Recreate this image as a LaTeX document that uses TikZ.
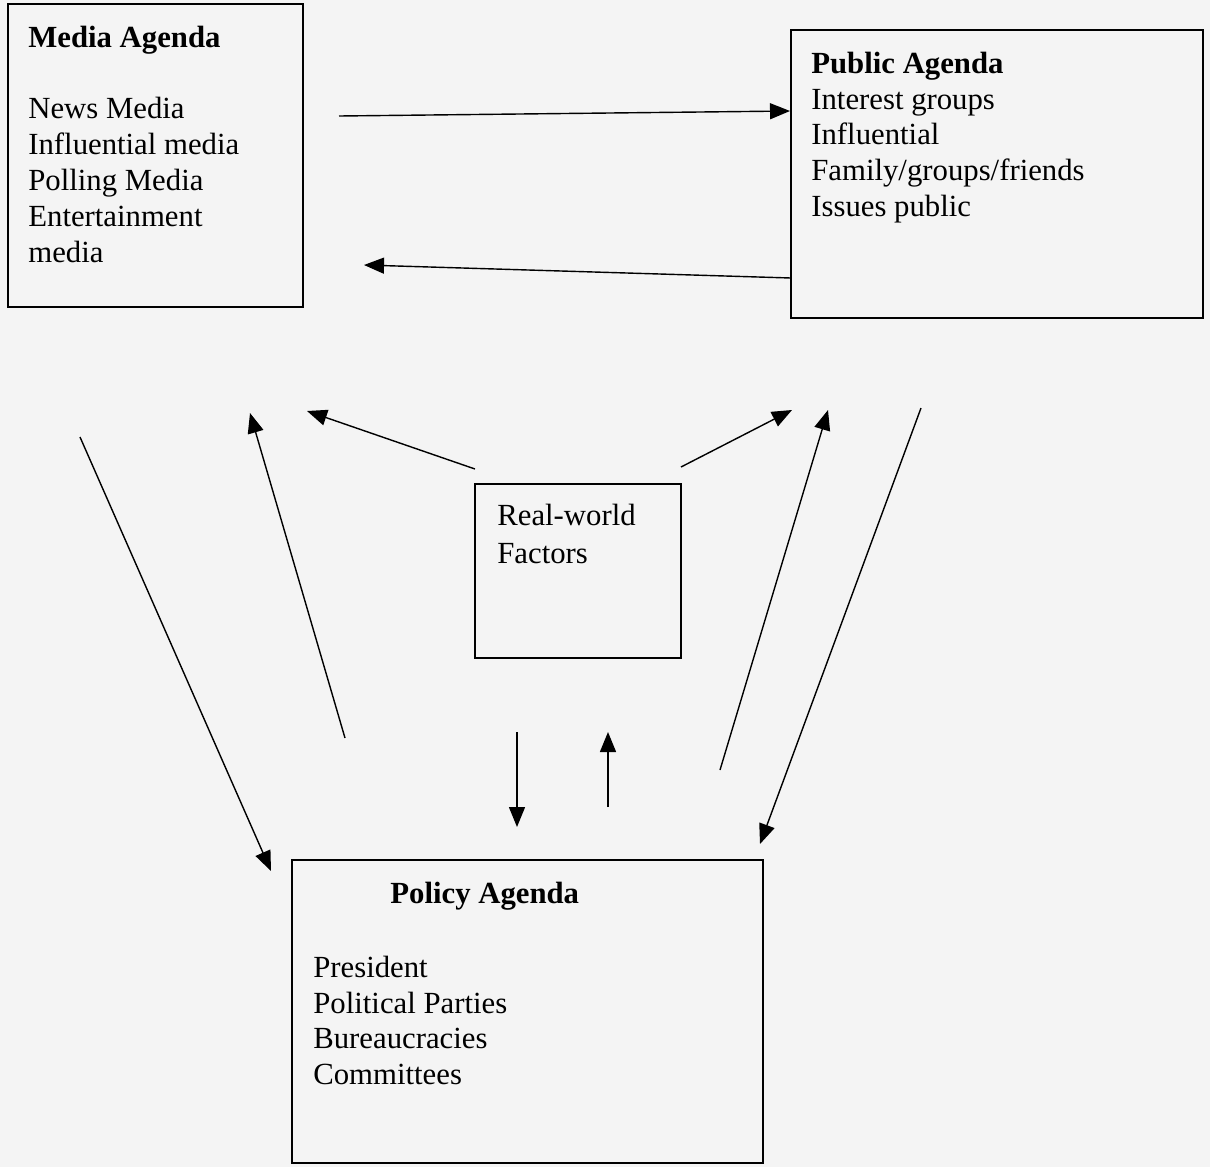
\documentclass[tikz,border=0pt]{standalone}
\usepackage{fontspec}
\setmainfont{Liberation Serif}
\usetikzlibrary{arrows.meta}
\begin{document}
\begin{tikzpicture}[
    x=0.02cm, y=-0.02cm,
    box/.style={draw, line width=1.1pt, inner sep=0pt},
    txt/.style={anchor=north west, align=left, inner sep=0pt,
        font=\fontsize{17.5}{20.4}\selectfont},
    link/.style={line width=0.8pt, -{Triangle[length=0.4cm,width=0.32cm]}}
]
\fill[gray!9] (0,0) rectangle (1210,1167);
\useasboundingbox (0,0) rectangle (1210,1167);
% boxes
\node[box, minimum width=5.9cm, minimum height=6.06cm] (media) at (155.5,155.5) {};
\node[box, minimum width=8.24cm, minimum height=5.76cm] (public) at (997,174) {};
\node[box, minimum width=4.12cm, minimum height=3.48cm] (real) at (578,571) {};
\node[box, minimum width=9.42cm, minimum height=6.06cm] (policy) at (527.5,1011.5) {};
% texts (a strut starts each one, so the top lies one strut above the first baseline)
\node[txt] (mediatxt) at (28,21.8) {\strut\textbf{Media Agenda}\\[20.4pt]
    News Media\\ Influential media\\ Polling Media\\ Entertainment\\ media};
\node[txt] (publictxt) at (811,47.8) {\strut\textbf{Public Agenda}\\ Interest groups\\
    Influential\\ Family/groups/friends\\ Issues public};
\node[txt] (realtxt) at (497,499.8) {\strut Real-world\\[1.5pt] Factors};
\node[txt] (policyhead) at (390,877.8) {\strut\textbf{Policy Agenda}};
\node[txt] (policytxt) at (313,951.8) {\strut President\\ Political Parties\\
    Bureaucracies\\ Committees};
% connector ends
\coordinate (tA) at (339,116); \coordinate (hA) at (790,111);
\coordinate (tB) at (791,278); \coordinate (hB) at (364,265);
\coordinate (tC) at (475,469); \coordinate (hC) at (307,411);
\coordinate (tD) at (681,467); \coordinate (hD) at (792,410);
\coordinate (tE) at (345,738); \coordinate (hE) at (250,413);
\coordinate (tF) at (80,437);  \coordinate (hF) at (271,871);
\coordinate (tG) at (517,732); \coordinate (hG) at (517,827);
\coordinate (tH) at (608,807); \coordinate (hH) at (608,732);
\coordinate (tI) at (720,770); \coordinate (hI) at (828,410);
\coordinate (tJ) at (921,408); \coordinate (hJ) at (760,844);
% connectors
\foreach \a in {A,B,C,D,E,F,G,H,I,J}
    \draw[link] (t\a) -- (h\a);
\end{tikzpicture}
\end{document}
